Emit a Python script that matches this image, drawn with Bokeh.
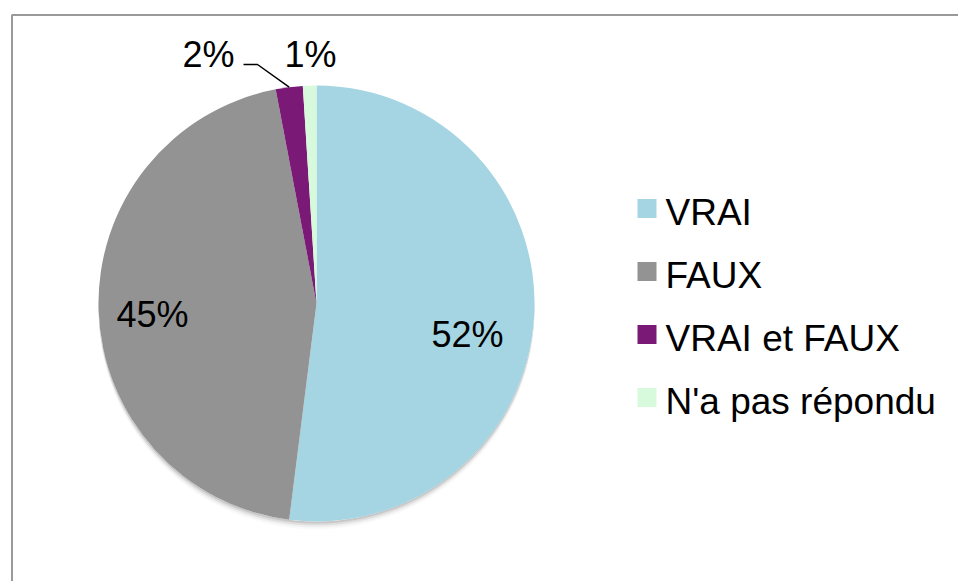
import math
from bokeh.plotting import figure
from bokeh.models import Range1d, ColumnDataSource
from bokeh.core.properties import value
from bokeh.embed import file_html
from bokeh.resources import INLINE

# ---- data ----
categories = ["VRAI", "FAUX", "VRAI et FAUX", "N'a pas répondu"]
percent = [52, 45, 2, 1]
labels = ["52%", "45%", "2%", "1%"]
colors = ["#A5D5E2", "#939393", "#7B1A76", "#D6FADB"]

# ---- layout (page pixel coordinates) ----
W, H = 958, 581
PAGE_H = 581
TXT = 13  # baseline compensation for rendered text
def Y(py):
    return PAGE_H - py

FONT = "Liberation Sans"
cx, cy, R = 316, Y(303), 218

p = figure(width=W, height=H, output_backend="svg", toolbar_location=None,
           x_range=Range1d(0, W), y_range=Range1d(PAGE_H - H, PAGE_H),
           min_border=0, outline_line_color=None)
p.axis.visible = False
p.grid.visible = False
p.background_fill_color = "white"
p.border_fill_color = "white"

# chart border (extends beyond the window right and bottom)
p.quad(left=[11.5], right=[1200], top=[Y(14.5)], bottom=[Y(900)],
       fill_color=None, line_color="#9a9a9a", line_width=2)

# soft shadow under the pie
for off, a in [(2, 0.10), (4, 0.07), (6, 0.04), (8, 0.02)]:
    p.circle(x=[cx], y=[cy - off], radius=R, fill_color="black", fill_alpha=a,
             line_color=None)
p.circle(x=[cx], y=[cy], radius=R, fill_color="white", line_color=None)

# wedges
total = float(sum(percent))
starts, ends, mids = [], [], []
cum = 0.0
for v in percent:
    s = math.pi / 2 - 2 * math.pi * cum / total
    cum += v
    e = math.pi / 2 - 2 * math.pi * cum / total
    starts.append(s)
    ends.append(e)
    mids.append((s + e) / 2)

src = ColumnDataSource(dict(start=starts, end=ends, color=colors, cat=categories))
p.wedge(x=cx, y=cy, radius=R, start_angle="start", end_angle="end",
        direction="clock", fill_color="color", line_color=None, source=src)

# data labels
label_pos = [(467, 347), (152, 327), (208, 67), (310, 67)]
p.text(x=[lp[0] for lp in label_pos], y=[Y(lp[1] - TXT) for lp in label_pos], text=labels,
       text_font=value(FONT), text_font_size="36px", text_align="center",
       text_baseline="alphabetic", text_color="black")

# leader line for the 2% slice
m = mids[2]
ex, ey = cx + R * math.cos(m), cy + R * math.sin(m)
p.line(x=[243, 257, ex], y=[Y(64), Y(64), ey], line_color="black", line_width=1.5)

# legend
leg_base = [225, 288, 351, 414]
p.rect(x=[646.5] * 4, y=[Y(b - 17) for b in leg_base], width=19, height=19,
       fill_color=colors, line_color=None)
p.text(x=[665] * 4, y=[Y(b - TXT) for b in leg_base], text=categories,
       text_font=value(FONT), text_font_size="37px", text_align="left",
       text_baseline="alphabetic", text_color="black")

open("out.html", "w").write(file_html(p, INLINE))
